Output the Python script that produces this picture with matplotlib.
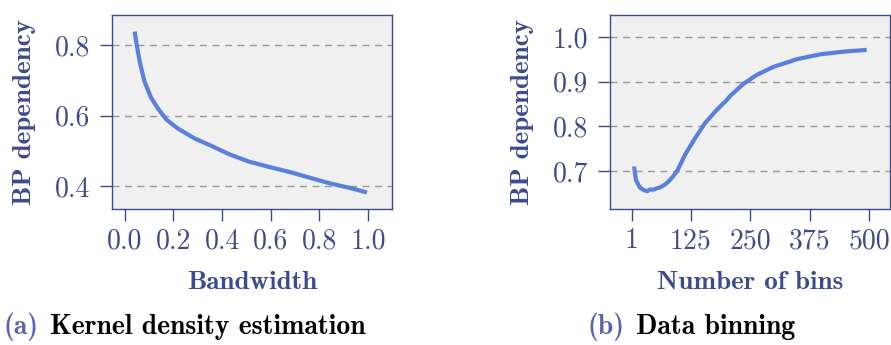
import matplotlib
matplotlib.use("Agg")
import matplotlib.pyplot as plt

plt.rcParams['axes.formatter.use_mathtext'] = True

# Data (a) Kernel density estimation
bandwidth = [0.040, 0.051, 0.064, 0.081, 0.106, 0.136, 0.170, 0.218, 0.287, 0.356, 0.430, 0.512,
             0.595, 0.677, 0.759, 0.842, 0.924, 0.996]
bp_kde = [0.838, 0.791, 0.743, 0.696, 0.653, 0.620, 0.589, 0.563, 0.535, 0.514, 0.490, 0.469,
          0.454, 0.440, 0.424, 0.408, 0.395, 0.382]

# Data (b) Data binning
bins = [6, 10, 18, 27, 34, 40, 46, 53, 60, 70, 78, 88, 96, 113, 134, 155, 180, 201, 208, 236,
        264, 299, 348, 397, 446, 495]
bp_bin = [0.710, 0.680, 0.663, 0.657, 0.655, 0.659, 0.658, 0.661, 0.663, 0.669, 0.676, 0.688,
          0.699, 0.736, 0.773, 0.807, 0.837, 0.859, 0.868, 0.895, 0.915, 0.933, 0.950, 0.961,
          0.967, 0.971]

xticks_a = [0.0, 0.2, 0.4, 0.6, 0.8, 1.0]
xticklabels_a = ["0.0", "0.2", "0.4", "0.6", "0.8", "1.0"]
yticks_a = [0.4, 0.6, 0.8]
yticklabels_a = ["0.4", "0.6", "0.8"]
xticks_b = [1, 125, 250, 375, 500]
xticklabels_b = ["1", "125", "250", "375", "500"]
yticks_b = [0.7, 0.8, 0.9, 1.0]
yticklabels_b = ["0.7", "0.8", "0.9", "1.0"]

NAVY = "#3d4a8e"
LINE = "#5a7fdc"
BG = "#f0f0f0"
REG = "cmr10"
BOLD = "cmb10"

fig = plt.figure(figsize=(8.91, 3.45), dpi=100)
ax1 = fig.add_axes([112/891, 1-209/345, 280/891, 194/345])
ax2 = fig.add_axes([610/891, 1-209/345, 280/891, 194/345])

def style(ax, xt, xtl, yt, ytl, xlabel):
    ax.set_facecolor(BG)
    for s in ax.spines.values():
        s.set_color(NAVY)
        s.set_linewidth(1.0)
    ax.set_xticks(xt)
    ax.set_xticklabels(xtl, fontfamily=REG, fontsize=20, color=NAVY)
    ax.set_yticks(yt)
    ax.set_yticklabels(ytl, fontfamily=REG, fontsize=20, color=NAVY)
    ax.tick_params(axis='both', length=8.5, width=1.0, color=NAVY)
    ax.tick_params(axis='x', pad=5)
    ax.tick_params(axis='y', pad=7)
    ax.yaxis.grid(True, linestyle=(0, (5, 4)), color="#999999", linewidth=1.0)
    ax.set_axisbelow(True)
    ax.set_xlabel(xlabel, fontfamily=BOLD, fontsize=19.5, color=NAVY, labelpad=12)
    ax.set_ylabel("BP dependency", fontfamily=BOLD, fontsize=19.5, color=NAVY, labelpad=14)

ax1.plot(bandwidth, bp_kde, color=LINE, linewidth=3.0, solid_capstyle='butt', solid_joinstyle='round')
ax1.set_xlim(-0.053, 1.099)
ax1.set_ylim(0.335, 0.885)
style(ax1, xticks_a, xticklabels_a, yticks_a, yticklabels_a, "Bandwidth")

ax2.plot(bins, bp_bin, color=LINE, linewidth=3.0, solid_capstyle='butt', solid_joinstyle='round')
ax2.set_xlim(-44.6, 544)
ax2.set_ylim(0.615, 1.049)
style(ax2, xticks_b, xticklabels_b, yticks_b, yticklabels_b, "Number of bins")

cap_y = 1 - 327/345
fig.text(3/891, cap_y, "(a)", fontfamily=BOLD, fontsize=20, color="#5563b0", va='center', ha='left')
fig.text(50/891, cap_y, "Kernel density estimation", fontfamily=BOLD, fontsize=20, color="black", va='center', ha='left')
fig.text(587/891, cap_y, "(b)", fontfamily=BOLD, fontsize=20, color="#5563b0", va='center', ha='left')
fig.text(636/891, cap_y, "Data binning", fontfamily=BOLD, fontsize=20, color="black", va='center', ha='left')

fig.savefig("out.png", dpi=100)
